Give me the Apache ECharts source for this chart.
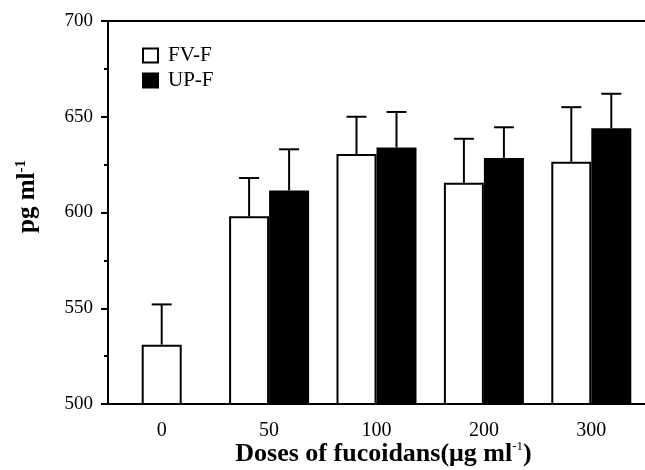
<!DOCTYPE html>
<html>
<head>
<meta charset="utf-8">
<script src="https://cdn.jsdelivr.net/npm/echarts@6/dist/echarts.min.js"></script>
<style>html,body{margin:0;padding:0;background:#fff;}#c{width:645px;height:470px;}</style>
</head>
<body>
<div id="c"></div>
<script>
const categories = ['0', '50', '100', '200', '300'];
const fvMean = [531, 598, 630.5, 615.5, 626.5];
const fvErr = [21, 20, 19.5, 23, 28.5];
const upMean = [null, 611.5, 634, 628.5, 644];
const upErr = [null, 21.5, 18.5, 16, 18];
const yMin = 500, yMax = 700, yStep = 50;

const SERIF = 'Liberation Serif';
const BAR_W = 40;

// build derived series data
const fvPaired = fvMean.map((v, i) => upMean[i] == null ? '-' : v);
const fvAlone = fvMean.map((v, i) => upMean[i] == null ? v : '-');
const errData = [];
fvMean.forEach((v, i) => { errData.push([i, v, fvErr[i], upMean[i] == null ? 0 : -1]); });
upMean.forEach((v, i) => { if (v != null) errData.push([i, v, upErr[i], 1]); });

const chart = echarts.init(document.getElementById('c'));
const axisBlack = { color: '#000', width: 2 };

chart.setOption({
  animation: false,
  backgroundColor: '#fff',
  grid: { left: 108, right: 0, top: 21, bottom: 66, containLabel: false, outerBoundsMode: 'none' },
  legend: {
    data: ['FV-F', 'UP-F'],
    orient: 'vertical',
    left: 137, top: 40,
    icon: 'rect',
    itemWidth: 15, itemHeight: 14, itemGap: 4,
    textStyle: { fontFamily: SERIF, fontSize: 21, color: '#000', lineHeight: 15, padding: [0, 0, 0, 5] }
  },
  xAxis: [{
    type: 'category', data: categories, position: 'bottom',
    axisLine: { lineStyle: axisBlack },
    axisTick: { alignWithLabel: true, length: 7, lineStyle: { color: '#000', width: 2 } },
    axisLabel: { margin: 17, fontFamily: SERIF, fontSize: 20, color: '#000' },
    name: '{a|Doses of fucoidans(μg ml}{s|-1}{a|)}',
    nameLocation: 'middle', nameGap: 36, nameMoveOverlap: false,
    nameTextStyle: {
      padding: [0, 0, 0, 14],
      rich: {
        a: { fontFamily: SERIF, fontWeight: 'bold', fontSize: 26, color: '#000', lineHeight: 28 },
        s: { fontFamily: SERIF, fontWeight: 'normal', fontSize: 13, color: '#000', lineHeight: 14, verticalAlign: 'top' }
      }
    }
  }, {
    type: 'category', data: categories, position: 'top',
    axisLine: { lineStyle: axisBlack },
    axisTick: { show: false }, axisLabel: { show: false }
  }],
  yAxis: {
    type: 'value', min: yMin, max: yMax, interval: yStep,
    axisLine: { show: true, lineStyle: axisBlack },
    axisTick: { show: true, length: 7, lineStyle: { color: '#000', width: 2 } },
    minorTick: { show: true, splitNumber: 2, length: 4, lineStyle: { color: '#000', width: 2 } },
    splitLine: { show: false },
    axisLabel: { margin: 15, fontFamily: SERIF, fontSize: 19, color: '#000' },
    name: '{a|pg ml}{s|-1}',
    nameLocation: 'middle', nameGap: 66, nameRotate: 90, nameMoveOverlap: false,
    nameTextStyle: {
      padding: [0, 0, 0, 32],
      rich: {
        a: { fontFamily: SERIF, fontWeight: 'bold', fontSize: 25, color: '#000', lineHeight: 28 },
        s: { fontFamily: SERIF, fontWeight: 'bold', fontSize: 15, color: '#000', lineHeight: 16, verticalAlign: 'top' }
      }
    }
  },
  series: [
    {
      name: 'FV-F', type: 'bar', xAxisIndex: 0, data: fvPaired,
      barWidth: BAR_W, barGap: '0%',
      itemStyle: { color: '#fff', borderColor: '#000', borderWidth: 2 }
    },
    {
      name: 'UP-F', type: 'bar', xAxisIndex: 0, data: upMean.map(v => v == null ? '-' : v),
      barWidth: BAR_W, barGap: '0%',
      itemStyle: { color: '#000', borderColor: '#000', borderWidth: 2 }
    },
    {
      name: 'FV-F', type: 'bar', xAxisIndex: 1, data: fvAlone,
      barWidth: BAR_W,
      itemStyle: { color: '#fff', borderColor: '#000', borderWidth: 2 }
    },
    {
      name: 'err', type: 'custom', xAxisIndex: 0, data: errData, z: 5,
      encode: { x: 0, y: 1 },
      renderItem: function (params, api) {
        const i = api.value(0), m = api.value(1), e = api.value(2), side = api.value(3);
        const p0 = api.coord([i, m]);
        const p1 = api.coord([i, m + e]);
        const cx = p0[0] + side * BAR_W / 2;
        return {
          type: 'group',
          children: [
            { type: 'line', shape: { x1: cx, y1: p0[1], x2: cx, y2: p1[1] }, style: { stroke: '#000', lineWidth: 2 } },
            { type: 'line', shape: { x1: cx - 10, y1: p1[1], x2: cx + 10, y2: p1[1] }, style: { stroke: '#000', lineWidth: 2 } }
          ]
        };
      }
    }
  ]
});
</script>
</body>
</html>
